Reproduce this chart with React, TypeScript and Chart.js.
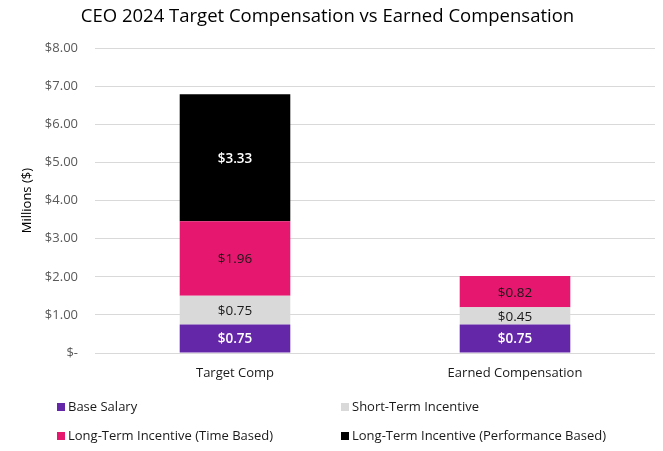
import React, { useEffect, useRef } from "react";
import { Chart, registerables } from "chart.js";
Chart.register(...registerables);

const categories = ["Target Comp", "Earned Compensation"];
const seriesNames = [
  "Base Salary",
  "Short-Term Incentive",
  "Long-Term Incentive (Time Based)",
  "Long-Term Incentive (Performance Based)",
];
const baseSalary = [0.75, 0.75];
const shortTerm = [0.75, 0.45];
const ltiTime = [1.96, 0.82];
const ltiPerf = [3.33, 0];
const colors = ["#6427A8", "#D9D9D9", "#E6176E", "#000000"];
const labelColors = ["#FFFFFF", "#1A1A1A", "#1A1A1A", "#FFFFFF"];

const FONT = "'Open Sans', 'Liberation Sans', sans-serif";

const fmt = (v: number) => (v === 0 ? "$-" : "$" + v.toFixed(2));

const labelPlugin = {
  id: "barLabels",
  afterDatasetsDraw(chart: any) {
    const ctx = chart.ctx;
    ctx.save();
    ctx.textAlign = "center";
    ctx.textBaseline = "middle";
    chart.data.datasets.forEach((ds: any, i: number) => {
      const meta = chart.getDatasetMeta(i);
      meta.data.forEach((bar: any, j: number) => {
        const v = ds.data[j];
        if (!v) return;
        const cy = (bar.y + bar.base) / 2;
        ctx.fillStyle = labelColors[i];
        ctx.font = (i === 0 || i === 3 ? "600 " : "500 ") + "13.5px " + FONT;
        ctx.fillText(fmt(v), bar.x, cy + 1);
      });
    });
    ctx.restore();
  },
};

const legendPlugin = {
  id: "gridLegend",
  afterDraw(chart: any) {
    const ctx = chart.ctx;
    const area = chart.chartArea;
    ctx.save();
    ctx.textBaseline = "middle";
    ctx.textAlign = "left";
    ctx.font = "13px " + FONT;
    const colX = [area.left - 38, area.left + 246];
    const rowY = [area.bottom + 54, area.bottom + 83];
    seriesNames.forEach((name, i) => {
      const x = colX[i % 2];
      const y = rowY[Math.floor(i / 2)];
      ctx.fillStyle = colors[i];
      ctx.fillRect(x, y - 4, 8, 8);
      ctx.fillStyle = "#1A1A1A";
      ctx.fillText(name, x + 11, y);
    });
    ctx.restore();
  },
};

export default function App() {
  const ref = useRef<HTMLCanvasElement>(null);
  useEffect(() => {
    if (!ref.current) return;
    const datasets = [baseSalary, shortTerm, ltiTime, ltiPerf].map((d, i) => ({
      label: seriesNames[i],
      data: d,
      backgroundColor: colors[i],
      borderWidth: 0,
      categoryPercentage: 1,
      barPercentage: 0.395,
    }));
    const chart = new Chart(ref.current, {
      type: "bar",
      data: { labels: categories, datasets },
      plugins: [labelPlugin, legendPlugin],
      options: {
        animation: false,
        responsive: false,
        devicePixelRatio: 1,
        layout: { padding: { left: 0, right: 8, top: 0, bottom: 0 } },
        plugins: {
          legend: { display: false },
          tooltip: { enabled: false },
          title: {
            display: true,
            text: "CEO 2024 Target Compensation vs Earned Compensation",
            color: "#000",
            font: { family: FONT, size: 18.5, weight: "normal" },
            padding: { top: 6, bottom: 20 },
          },
        },
        scales: {
          x: {
            stacked: true,
            grid: { display: false },
            border: { display: false },
            ticks: {
              color: "#1A1A1A",
              font: { family: FONT, size: 13 },
              padding: 4,
            },
            afterFit: (s: any) => {
              s.height = 98;
            },
          },
          y: {
            stacked: true,
            min: 0,
            max: 8,
            ticks: {
              stepSize: 1,
              color: "#595959",
              font: { family: FONT, size: 13 },
              padding: 17,
              callback: (v: any) => fmt(Number(v)),
            },
            grid: { color: "#D9D9D9", lineWidth: 1, drawTicks: false },
            border: { display: false },
            title: {
              display: true,
              text: "Millions ($)",
              color: "#000",
              font: { family: FONT, size: 13, weight: 500 },
              padding: { top: 19, bottom: 6 },
            },
            afterFit: (s: any) => {
              s.width = 95;
            },
          },
        },
      },
    });
    return () => chart.destroy();
  }, []);
  return (
    <div style={{ position: "absolute", left: 0, top: 0, width: 663, height: 451, background: "#fff" }}>
      <canvas ref={ref} width={663} height={451} style={{ display: "block", width: 663, height: 451 }} />
    </div>
  );
}
